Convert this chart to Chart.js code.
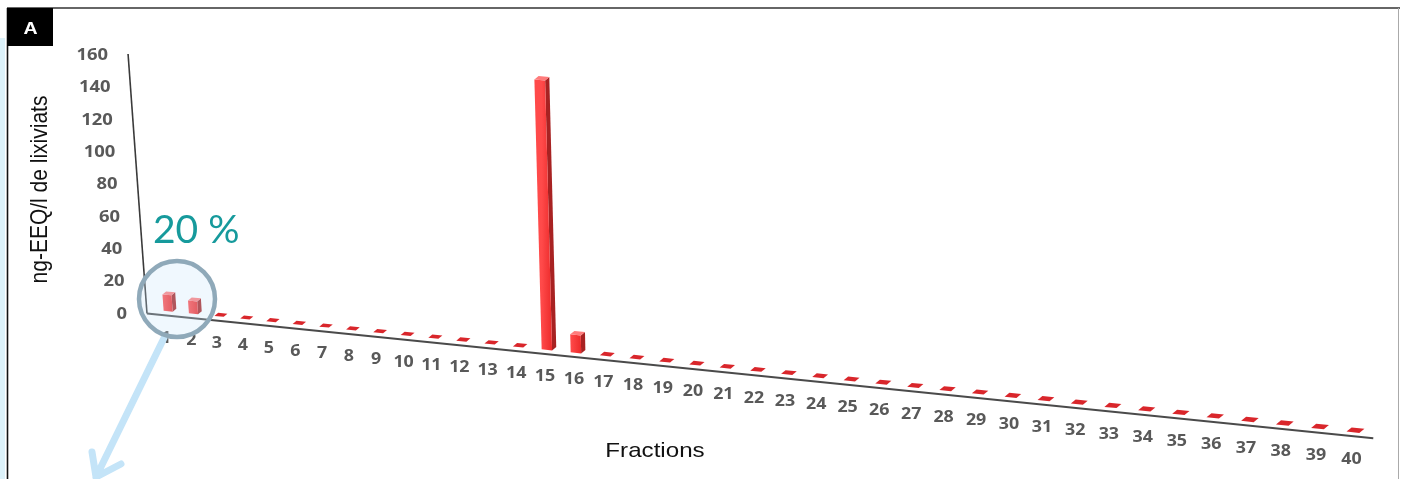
<!DOCTYPE html>
<html lang="fr">
<head>
<meta charset="utf-8">
<title>Fractions - ng-EEQ/l de lixiviats</title>
<script src="https://cdn.jsdelivr.net/npm/chart.js@4.4.1/dist/chart.umd.min.js"></script>
<style>
  html, body { margin: 0; padding: 0; background: #fff; }
  canvas { display: block; }
</style>
</head>
<body>
<canvas id="chart" width="1403" height="479"></canvas>
<script>
// Fractions collected (x categories)
const fractions = ['1', '2', '3', '4', '5', '6', '7', '8', '9', '10',
                   '11', '12', '13', '14', '15', '16', '17', '18', '19', '20',
                   '21', '22', '23', '24', '25', '26', '27', '28', '29', '30',
                   '31', '32', '33', '34', '35', '36', '37', '38', '39', '40'];
// Estrogenic activity per fraction, ng-EEQ/l
const eeqValues = [10, 7.8, 0, 0, 0, 0, 0, 0, 0, 0,
                   0, 0, 0, 0, 144, 9.5, 0, 0, 0, 0,
                   0, 0, 0, 0, 0, 0, 0, 0, 0, 0,
                   0, 0, 0, 0, 0, 0, 0, 0, 0, 0];
const yTicks = [0, 20, 40, 60, 80, 100, 120, 140, 160];
const yTitle = 'ng-EEQ/l de lixiviats';
const xTitle = 'Fractions';
const panelLabel = 'A';
const calloutText = '20 %';

// perspective of the 3D floor
const persp = {
    x0: 144.9, a: 24.94, b: 0.1331,     // fraction n -> x0 + a*n + b*n^2
    floorX0: 223, floorY0: 316.8, slope: 0.1022,
    vpX: 771, vpY: 8867,                 // where vertical edges converge
    stretch: 1.15
};
const fracX = n => persp.x0 + persp.a * n + persp.b * n * n;
const spacing = n => persp.a + 2 * persp.b * n;
const floorY = x => persp.floorY0 + (x - persp.floorX0) * persp.slope;
const lean = (x, yBase, yTop) => persp.vpX + (x - persp.vpX) * (persp.vpY - yTop) / (persp.vpY - yBase);

const labelFont = 'bold 15.5px "Open Sans", "DejaVu Sans", sans-serif';
const tickFont = 'bold 16px "Open Sans", "DejaVu Sans", sans-serif';
const titleFont = '21px "Liberation Sans", Arial, sans-serif';

function stretchedText(ctx, text, x, y, align) {
    ctx.save();
    ctx.translate(x, y);
    ctx.scale(persp.stretch, 1);
    ctx.textAlign = align;
    ctx.fillText(text, 0, 0);
    ctx.restore();
}

function poly(ctx, pts, fill) {
    ctx.beginPath();
    ctx.moveTo(pts[0][0], pts[0][1]);
    for (let i = 1; i < pts.length; i++) ctx.lineTo(pts[i][0], pts[i][1]);
    ctx.closePath();
    ctx.fillStyle = fill;
    ctx.fill();
}

function drawAxes(chart) {
    const ctx = chart.ctx;
    const area = chart.chartArea;
    const yScale = chart.scales.y;
    const y0 = yScale.getPixelForValue(yTicks[0]);
    const yTop = yScale.getPixelForValue(yTicks[yTicks.length - 1]);

    // value axis, leaning back
    ctx.strokeStyle = '#3a3a3a';
    ctx.lineWidth = 1.6;
    ctx.beginPath();
    ctx.moveTo(lean(area.left, y0, yTop - 1), yTop - 1);
    ctx.lineTo(area.left, y0);
    ctx.stroke();

    // floor front edge
    const xEnd = fracX(fractions.length + 0.5);
    ctx.strokeStyle = '#4a4a4a';
    ctx.lineWidth = 2;
    ctx.beginPath();
    ctx.moveTo(area.left, y0);
    ctx.lineTo(xEnd, floorY(xEnd) + 4);
    ctx.stroke();

    // value ticks
    ctx.fillStyle = '#595959';
    ctx.font = tickFont;
    ctx.textBaseline = 'middle';
    yTicks.forEach(v => {
        const y = yScale.getPixelForValue(v);
        stretchedText(ctx, String(v), lean(area.left, y0, y) - 20, y + 0.5, 'right');
    });

    // fraction labels along the floor
    ctx.font = labelFont;
    fractions.forEach((f, i) => {
        const x = fracX(i + 1);
        stretchedText(ctx, f, x - 4, floorY(x) + 26.7, 'center');
    });

    // axis titles
    ctx.fillStyle = '#111';
    ctx.font = titleFont;
    ctx.textBaseline = 'alphabetic';
    ctx.save();
    ctx.translate(47, 189.5);
    ctx.scale(persp.stretch, 1);
    ctx.rotate(-Math.PI / 2);
    ctx.textAlign = 'center';
    ctx.fillText(yTitle, 0, 0);
    ctx.restore();
    stretchedText(ctx, xTitle, 655, 456.5, 'center');
}

function drawBars(chart) {
    const ctx = chart.ctx;
    const area = chart.chartArea;
    const meta = chart.getDatasetMeta(0);
    const step = area.width / fractions.length;
    const d0 = spacing(0);

    meta.data.forEach(el => {
        const n = (el.x - area.left) / step + 0.5;
        const d = spacing(n);
        const xc = fracX(n);
        const yb = floorY(xc);
        const h = (el.base - el.y) * d / d0;
        const w = el.width * d / step;
        const ox = 0.4 * w, oy = -0.33 * w;
        const xl = xc - w / 2 - ox / 2, xr = xl + w;
        const ybl = yb - (xc - xl) * persp.slope;
        const ybr = yb + (xr - xc) * persp.slope;
        const ytl = ybl - h, ytr = ybr - h;
        const xlT = lean(xl, ybl, ytl), xrT = lean(xr, ybr, ytr);

        if (h > 0.5) {
            // side face
            poly(ctx, [[xr, ybr], [xr + ox, ybr + oy], [xrT + ox, ytr + oy], [xrT, ytr]], '#a82222');
            // front face
            const g = ctx.createLinearGradient(xl, 0, xr, 0);
            g.addColorStop(0, '#ff4a4a');
            g.addColorStop(1, '#ec2a2a');
            poly(ctx, [[xl, ybl], [xr, ybr], [xrT, ytr], [xlT, ytl]], g);
            // top face
            poly(ctx, [[xlT, ytl], [xrT, ytr], [xrT + ox, ytr + oy], [xlT + ox, ytl + oy]], '#ff7b7b');
        } else {
            poly(ctx, [[xl, ybl], [xr, ybr], [xr + ox, ybr + oy], [xl + ox, ybl + oy]], '#d9262b');
        }
    });
}

const pseudo3d = {
    id: 'pseudo3d',
    beforeDraw(chart) {
        const ctx = chart.ctx;
        ctx.save();
        ctx.fillStyle = '#fff';
        ctx.fillRect(0, 0, chart.width, chart.height);
        // light strip on the left edge
        ctx.fillStyle = '#dcf1f9';
        ctx.fillRect(0, 38, 5, chart.height - 38);
        // panel frame
        ctx.strokeStyle = '#666';
        ctx.lineWidth = 2;
        ctx.beginPath();
        ctx.moveTo(7, 8);
        ctx.lineTo(1400, 8);
        ctx.stroke();
        ctx.strokeStyle = '#111';
        ctx.lineWidth = 1.6;
        ctx.beginPath();
        ctx.moveTo(7.5, 8);
        ctx.lineTo(7.5, chart.height);
        ctx.stroke();
        ctx.strokeStyle = '#aaa';
        ctx.lineWidth = 1;
        ctx.beginPath();
        ctx.moveTo(1398.5, 8);
        ctx.lineTo(1398.5, chart.height);
        ctx.stroke();
        // panel letter
        ctx.fillStyle = '#000';
        ctx.fillRect(7, 8, 46, 38);
        ctx.fillStyle = '#fff';
        ctx.font = 'bold 17px "Liberation Sans", Arial, sans-serif';
        ctx.textBaseline = 'middle';
        stretchedText(ctx, panelLabel, 30.5, 29, 'center');
        ctx.restore();
    },
    beforeDatasetsDraw(chart) {
        chart.ctx.save();
        drawAxes(chart);
        drawBars(chart);
        chart.ctx.restore();
        return false;
    },
    afterDraw(chart) {
        const ctx = chart.ctx;
        ctx.save();
        // arrow out of the callout
        ctx.strokeStyle = '#c4e4f8';
        ctx.lineWidth = 7;
        ctx.lineCap = 'round';
        ctx.lineJoin = 'round';
        ctx.beginPath();
        ctx.moveTo(164, 338);
        ctx.lineTo(96, 477);
        ctx.moveTo(92, 452);
        ctx.lineTo(96, 477);
        ctx.lineTo(121, 464);
        ctx.stroke();
        // callout circle around fractions 1-2
        ctx.beginPath();
        ctx.arc(177, 299, 38, 0, Math.PI * 2);
        ctx.fillStyle = 'rgba(200, 228, 250, 0.27)';
        ctx.fill();
        ctx.strokeStyle = '#8fa9b9';
        ctx.lineWidth = 4.5;
        ctx.stroke();
        // share label
        ctx.fillStyle = '#169a9c';
        ctx.font = '39px Lato, "Open Sans", sans-serif';
        ctx.textAlign = 'left';
        ctx.textBaseline = 'alphabetic';
        ctx.fillText(calloutText, 153, 243);
        ctx.restore();
    }
};

const ctx = document.getElementById('chart').getContext('2d');
const eeqChart = new Chart(ctx, {
    type: 'bar',
    data: {
        labels: fractions,
        datasets: [{
            label: yTitle,
            data: eeqValues,
            backgroundColor: '#f03030',
            categoryPercentage: 0.8,
            barPercentage: 0.45
        }]
    },
    options: {
        responsive: false,
        devicePixelRatio: 1,
        animation: false,
        events: [],
        layout: { padding: { left: 147, right: 30.5, top: 55, bottom: 165.5 } },
        plugins: { legend: { display: false }, tooltip: { enabled: false } },
        scales: {
            x: { display: false, offset: true },
            y: {
                display: false,
                min: yTicks[0],
                max: yTicks[yTicks.length - 1],
                ticks: { stepSize: yTicks[1] - yTicks[0] }
            }
        }
    },
    plugins: [pseudo3d]
});
</script>
</body>
</html>
